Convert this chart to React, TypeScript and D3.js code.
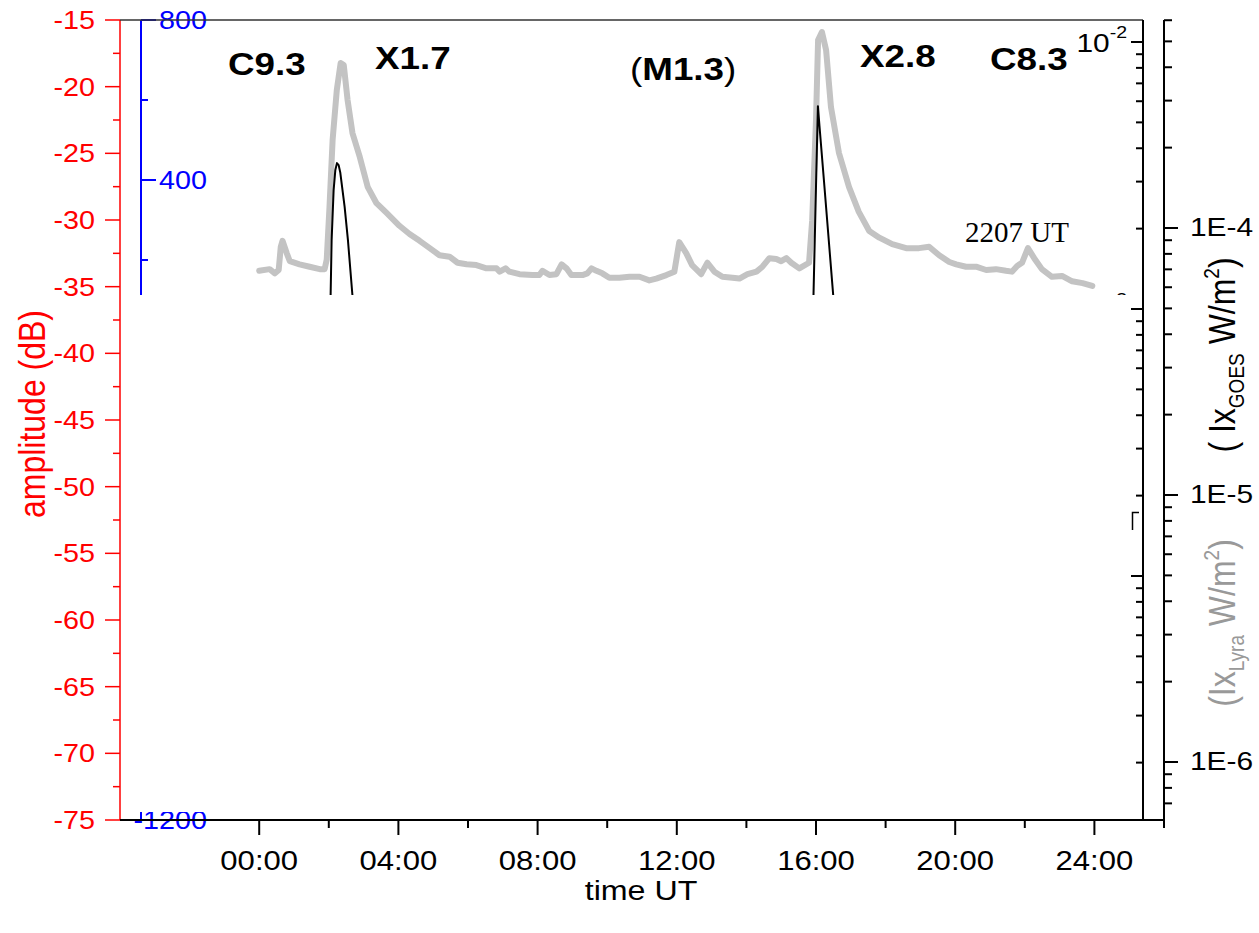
import React from 'react';
import * as d3 from 'd3';

// time axis (hours UT)
const X_MAJOR = [0, 4, 8, 12, 16, 20, 24];
const X_LABELS = ["00:00", "04:00", "08:00", "12:00", "16:00", "20:00", "24:00"];
const X_MINOR = [2, 6, 10, 14, 18, 22, 26];

// left axes
const RED_MAJOR = [-75, -70, -65, -60, -55, -50, -45, -40, -35, -30, -25, -20, -15];
const BLUE_MAJOR = [-1200, -800, -400, 0, 400, 800];

// right log axes
const OUTER_LABELS = [{ v: 1e-4, t: "1E-4" }, { v: 1e-5, t: "1E-5" }, { v: 1e-6, t: "1E-6" }];
const INNER_LABELS = [{ v: 1e-2, t: "-2" }, { v: 1e-3, t: "-3" }, { v: 1e-4, t: "-4" }];

// Lyra (grey, inner axis)
const lyraHours = [
    0.00, 0.30, 0.45, 0.56, 0.62, 0.67, 0.79, 0.88, 1.16, 1.45, 1.74, 1.88, 1.94, 2.02, 2.11, 2.23,
    2.34, 2.43, 2.54, 2.68, 2.89, 3.12, 3.37, 3.66, 4.03, 4.32, 4.61, 4.90, 5.18, 5.47, 5.70, 5.96,
    6.24, 6.53, 6.82, 6.91, 7.08, 7.19, 7.48, 7.85, 8.05, 8.14, 8.34, 8.54, 8.69, 8.83, 8.97, 9.29,
    9.43, 9.55, 9.69, 9.86, 10.06, 10.35, 10.64, 10.93, 11.21, 11.41, 11.70, 11.93, 12.07, 12.27,
    12.44, 12.70, 12.79, 12.88, 13.08, 13.31, 13.60, 13.80, 14.03, 14.29, 14.46, 14.66, 14.86, 15.00,
    15.15, 15.29, 15.52, 15.80, 15.89, 16.00, 16.06, 16.17, 16.29, 16.43, 16.66, 16.95, 17.23, 17.53,
    17.82, 18.19, 18.59, 18.96, 19.25, 19.54, 19.83, 20.03, 20.31, 20.60, 20.89, 21.17, 21.46, 21.63,
    21.78, 21.92, 22.09, 22.27, 22.49, 22.78, 23.07, 23.36, 23.66, 23.94
];
const lyraFlux = [
    1.39e-3, 1.41e-3, 1.36e-3, 1.40e-3, 1.71e-3, 1.80e-3, 1.62e-3, 1.51e-3, 1.47e-3, 1.44e-3, 1.41e-3, 1.41e-3, 1.53e-3, 2.41e-3, 4.30e-3, 6.61e-3,
    8.34e-3, 8.20e-3, 6.06e-3, 4.56e-3, 3.71e-3, 2.86e-3, 2.49e-3, 2.29e-3, 2.05e-3, 1.91e-3, 1.80e-3, 1.69e-3, 1.59e-3, 1.57e-3, 1.49e-3, 1.47e-3,
    1.46e-3, 1.42e-3, 1.42e-3, 1.38e-3, 1.42e-3, 1.38e-3, 1.35e-3, 1.34e-3, 1.34e-3, 1.39e-3, 1.34e-3, 1.35e-3, 1.47e-3, 1.42e-3, 1.34e-3, 1.34e-3,
    1.36e-3, 1.42e-3, 1.39e-3, 1.36e-3, 1.31e-3, 1.31e-3, 1.32e-3, 1.32e-3, 1.28e-3, 1.30e-3, 1.34e-3, 1.38e-3, 1.78e-3, 1.62e-3,
    1.46e-3, 1.35e-3, 1.42e-3, 1.49e-3, 1.38e-3, 1.32e-3, 1.31e-3, 1.30e-3, 1.35e-3, 1.38e-3, 1.44e-3, 1.55e-3, 1.54e-3, 1.51e-3,
    1.55e-3, 1.49e-3, 1.42e-3, 1.49e-3, 2.15e-3, 5.10e-3, 1.017e-2, 1.09e-2, 9.33e-3, 5.71e-3, 3.84e-3, 2.86e-3, 2.31e-3, 1.96e-3,
    1.85e-3, 1.75e-3, 1.69e-3, 1.69e-3, 1.71e-3, 1.59e-3, 1.50e-3, 1.47e-3, 1.44e-3, 1.44e-3, 1.40e-3, 1.41e-3, 1.39e-3, 1.38e-3,
    1.45e-3, 1.49e-3, 1.69e-3, 1.55e-3, 1.41e-3, 1.32e-3, 1.33e-3, 1.27e-3, 1.25e-3, 1.22e-3
];

// GOES (black, outer axis)
const goesHours = [
    0.0, 0.5, 0.7, 1.0, 1.8, 1.95, 2.053, 2.081, 2.139, 2.188, 2.234, 2.283, 2.331, 2.455, 2.55, 2.676,
    2.85, 3.2, 4.0, 6.0, 9.0, 12.1, 12.5, 15.0, 15.8, 15.928, 16.0, 16.055, 16.101, 16.242, 16.494,
    16.7, 17.0, 18.0, 20.0, 22.1, 23.0, 23.94
];
const goesFlux = [
    8.0e-6, 8.5e-6, 9.3e-6, 8.0e-6, 9.0e-6, 2.0e-5, 5.66e-5, 9.0e-5, 1.39e-4, 1.65e-4, 1.75e-4, 1.72e-4, 1.61e-4, 1.20e-4, 9.0e-5, 5.66e-5,
    3.0e-5, 1.6e-5, 1.0e-5, 8.0e-6, 7.0e-6, 1.3e-5, 9.0e-6, 9.0e-6, 1.5e-5, 5.61e-5, 1.43e-4, 2.86e-4, 2.40e-4, 1.43e-4, 5.61e-5,
    3.0e-5, 1.8e-5, 1.1e-5, 9.0e-6, 8.3e-6, 7.0e-6, 6.5e-6
];

const SANS = '"Liberation Sans", Arial, sans-serif';
const SX = 1.15;

const xScale = d3.scaleLinear().domain([-4, 26]).range([120, 1164]);
const yRed = d3.scaleLinear().domain([-75, -15]).range([820, 20]);
const yBlue = d3.scaleLinear().domain([-1200, 800]).range([820, 20]);
const yInner = d3.scaleLog().domain([Math.pow(10, -4.9139), Math.pow(10, -1.9176)]).range([820, 20]);
const yOuter = d3.scaleLog().domain([Math.pow(10, -6.2172), Math.pow(10, -3.221)]).range([820, 20]);

function logTicks(scale) {
    const [lo, hi] = scale.domain();
    const out = [];
    for (let e = Math.floor(Math.log10(lo)); e <= Math.ceil(Math.log10(hi)); e++) {
        for (let k = 1; k <= 9; k++) {
            const v = k * Math.pow(10, e);
            if (v >= lo && v <= hi) out.push({ v, major: k === 1 });
        }
    }
    return out;
}

function T({ x, y, size, fill = "#000", anchor = "start", weight = "normal", children }) {
    return (
        <text transform={`translate(${x},${y}) scale(${SX},1)`} fontFamily={SANS} fontSize={size}
            fill={fill} textAnchor={anchor} fontWeight={weight}>{children}</text>
    );
}

export default function App() {
    const lyraLine = d3.line().x((d, i) => xScale(lyraHours[i])).y(d => yInner(d)).curve(d3.curveLinear);
    const goesLine = d3.line().x((d, i) => xScale(goesHours[i])).y(d => yOuter(d)).curve(d3.curveLinear);

    const redMinor = d3.range(-72.5, -15, 5);
    const blueMinor = d3.range(-1000, 800, 400);

    return (
        <svg width={1259} height={933} style={{ position: 'absolute', left: 0, top: 0, display: 'block', background: '#fff' }}>
            {/* red amplitude axis */}
            <line x1={120} x2={120} y1={20} y2={820} stroke="red" strokeWidth={1.5} />
            {RED_MAJOR.map(v => (
                <g key={v}>
                    <line x1={105} x2={120} y1={yRed(v)} y2={yRed(v)} stroke="red" strokeWidth={1.5} />
                    <T x={95} y={yRed(v) + 9} size={25} fill="red" anchor="end">{v}</T>
                </g>
            ))}
            {redMinor.map(v => (
                <line key={v} x1={113} x2={120} y1={yRed(v)} y2={yRed(v)} stroke="red" strokeWidth={1.5} />
            ))}
            <text transform={`translate(45,414) scale(${SX},1) rotate(-90)`} fontFamily={SANS} fontSize={32}
                fill="red" textAnchor="middle">amplitude (dB)</text>

            {/* blue axis */}
            <line x1={141} x2={141} y1={20} y2={820} stroke="blue" strokeWidth={2} />
            {BLUE_MAJOR.map(v => (
                <g key={v}>
                    <line x1={141} x2={156} y1={yBlue(v)} y2={yBlue(v)} stroke="blue" strokeWidth={2} />
                    <T x={207} y={yBlue(v) + 9} size={25} fill="blue" anchor="end">{v}</T>
                </g>
            ))}
            {blueMinor.map(v => (
                <line key={v} x1={141} x2={148} y1={yBlue(v)} y2={yBlue(v)} stroke="blue" strokeWidth={2} />
            ))}

            {/* frame */}
            <line x1={120} x2={1143} y1={20} y2={20} stroke="#333" strokeWidth={1.5} />
            <line x1={1164} x2={1164} y1={20} y2={828} stroke="#000" strokeWidth={2} />

            {/* curves */}
            <path d={lyraLine(lyraFlux)} fill="none" stroke="#c3c3c3" strokeWidth={6} strokeLinejoin="round" strokeLinecap="round" />
            <path d={goesLine(goesFlux)} fill="none" stroke="#000" strokeWidth={2} strokeLinejoin="round" />

            {/* inner log axis labels (drawn before the mask) */}
            {INNER_LABELS.map(d => (
                <T key={d.t} x={1127} y={yInner(d.v) + 10} size={26} anchor="end">
                    10<tspan fontSize={17} dy={-14}>{d.t}</tspan>
                </T>
            ))}

            {/* white panel over lower plot */}
            <rect x={122} y={295} width={1009} height={517} fill="#fff" />

            {/* x axis */}
            <line x1={120} x2={1164} y1={820} y2={820} stroke="#000" strokeWidth={2} />
            {X_MAJOR.map((h, i) => (
                <g key={h}>
                    <line x1={xScale(h)} x2={xScale(h)} y1={820} y2={835} stroke="#000" strokeWidth={2} />
                    <T x={xScale(h)} y={870} size={27} anchor="middle">{X_LABELS[i]}</T>
                </g>
            ))}
            {X_MINOR.map(h => (
                <line key={h} x1={xScale(h)} x2={xScale(h)} y1={820} y2={828} stroke="#000" strokeWidth={2} />
            ))}
            <T x={641} y={900} size={28} anchor="middle">time UT</T>

            {/* inner log axis */}
            <line x1={1143} x2={1143} y1={20} y2={820} stroke="#000" strokeWidth={2} />
            {logTicks(yInner).map(d => (
                <line key={d.v} x1={d.major ? 1131 : 1136} x2={1143} y1={yInner(d.v)} y2={yInner(d.v)} stroke="#000" strokeWidth={2} />
            ))}
            <path d="M1139,512.5 H1132.5 V530" fill="none" stroke="#000" strokeWidth={1.5} />

            {/* outer log axis */}
            {logTicks(yOuter).map(d => (
                <line key={d.v} x1={1164} x2={d.major ? 1178 : 1172} y1={yOuter(d.v)} y2={yOuter(d.v)} stroke="#000" strokeWidth={2} />
            ))}
            {OUTER_LABELS.map(d => (
                <T key={d.t} x={1190} y={yOuter(d.v) + 8} size={26}>{d.t}</T>
            ))}
            <text transform={`translate(1235,355) scale(${SX},1) rotate(-90)`} fontFamily={SANS} fontSize={32}
                fill="#000" textAnchor="middle">
                ( Ix<tspan fontSize={19} dy={8}>GOES</tspan><tspan dy={-8}> W/m</tspan><tspan fontSize={19} dy={-14}>2</tspan><tspan dy={14}>)</tspan>
            </text>
            <text transform={`translate(1235,623) scale(${SX},1) rotate(-90)`} fontFamily={SANS} fontSize={32}
                fill="#999" textAnchor="middle">
                (Ix<tspan fontSize={19} dy={8}>Lyra</tspan><tspan dy={-8}> W/m</tspan><tspan fontSize={19} dy={-14}>2</tspan><tspan dy={14}>)</tspan>
            </text>

            {/* flare classes */}
            <T x={228} y={75} size={32} weight="bold">C9.3</T>
            <T x={375} y={69} size={32} weight="bold">X1.7</T>
            <T x={630} y={80} size={32}>(<tspan fontWeight="bold">M1.3</tspan>)</T>
            <T x={860} y={67} size={32} weight="bold">X2.8</T>
            <T x={990} y={70} size={32} weight="bold">C8.3</T>
            <text x={965} y={242} fontFamily='"Liberation Serif", "Times New Roman", serif' fontSize={29}>2207 UT</text>
        </svg>
    );
}
